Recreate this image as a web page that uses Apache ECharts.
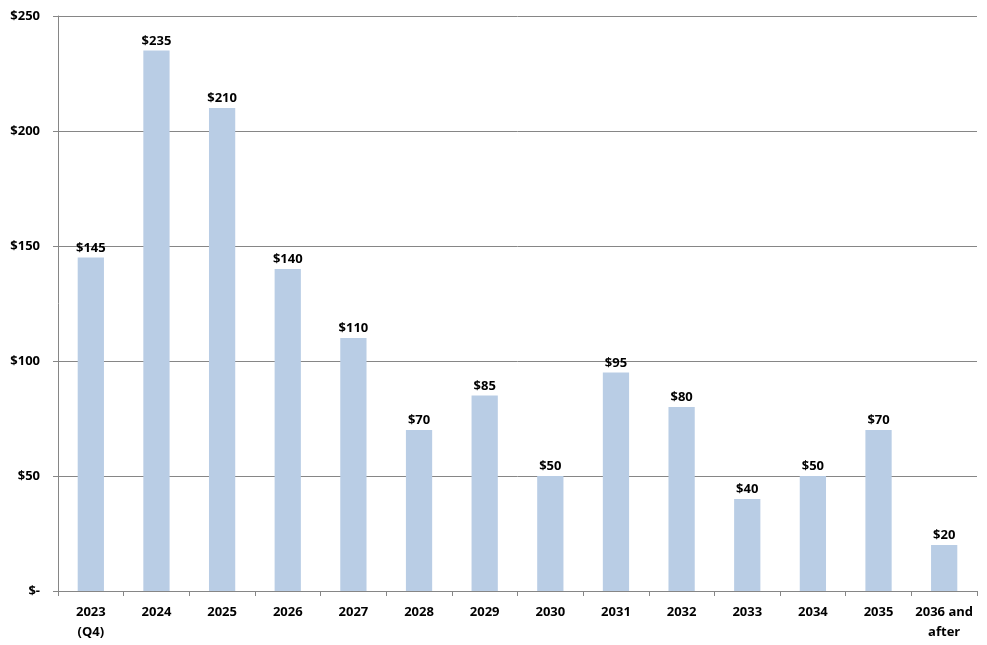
<!DOCTYPE html>
<html><head><meta charset="utf-8">
<script src="https://cdn.jsdelivr.net/npm/echarts@6/dist/echarts.min.js"></script>
<style>html,body{margin:0;padding:0;background:#fff}#c{width:987px;height:645px}</style>
</head><body><div id="c"></div>
<script>
const categories = ["2023\n(Q4)","2024","2025","2026","2027","2028","2029","2030","2031","2032","2033","2034","2035","2036 and\nafter"];
const values = [145,235,210,140,110,70,85,50,95,80,40,50,70,20];
const yMin = 0, yMax = 250, yStep = 50;

const chart = echarts.init(document.getElementById('c'));
const font = '"Open Sans", "Noto Sans", sans-serif';
chart.setOption({
  animation: false,
  grid: {left: 58, right: 10, top: 16, bottom: 54, containLabel: false},
  xAxis: {
    type: 'category', data: categories,
    axisLine: {lineStyle: {color: '#868686', width: 1}},
    axisTick: {show: true, length: 5, alignWithLabel: false, lineStyle: {color: '#868686'}},
    axisLabel: {color: '#000', fontWeight: 'bold', fontSize: 13, fontFamily: font, margin: 11, lineHeight: 20, interval: 0}
  },
  yAxis: {
    type: 'value', min: yMin, max: yMax, interval: yStep,
    axisLine: {show: true, lineStyle: {color: '#868686'}},
    axisTick: {show: true, length: 5, lineStyle: {color: '#868686'}},
    splitLine: {lineStyle: {color: '#868686', width: 1}},
    axisLabel: {color: '#000', fontWeight: 'bold', fontSize: 13, fontFamily: font, margin: 18,
      formatter: v => v === 0 ? '$-' : '$' + v}
  },
  series: [{
    type: 'bar', data: values, barWidth: '40%',
    itemStyle: {color: '#B9CDE5'},
    label: {show: true, position: 'top', distance: 3, color: '#000', fontWeight: 'bold', fontSize: 13, fontFamily: font,
      formatter: p => '$' + p.value}
  }]
});
</script></body></html>
